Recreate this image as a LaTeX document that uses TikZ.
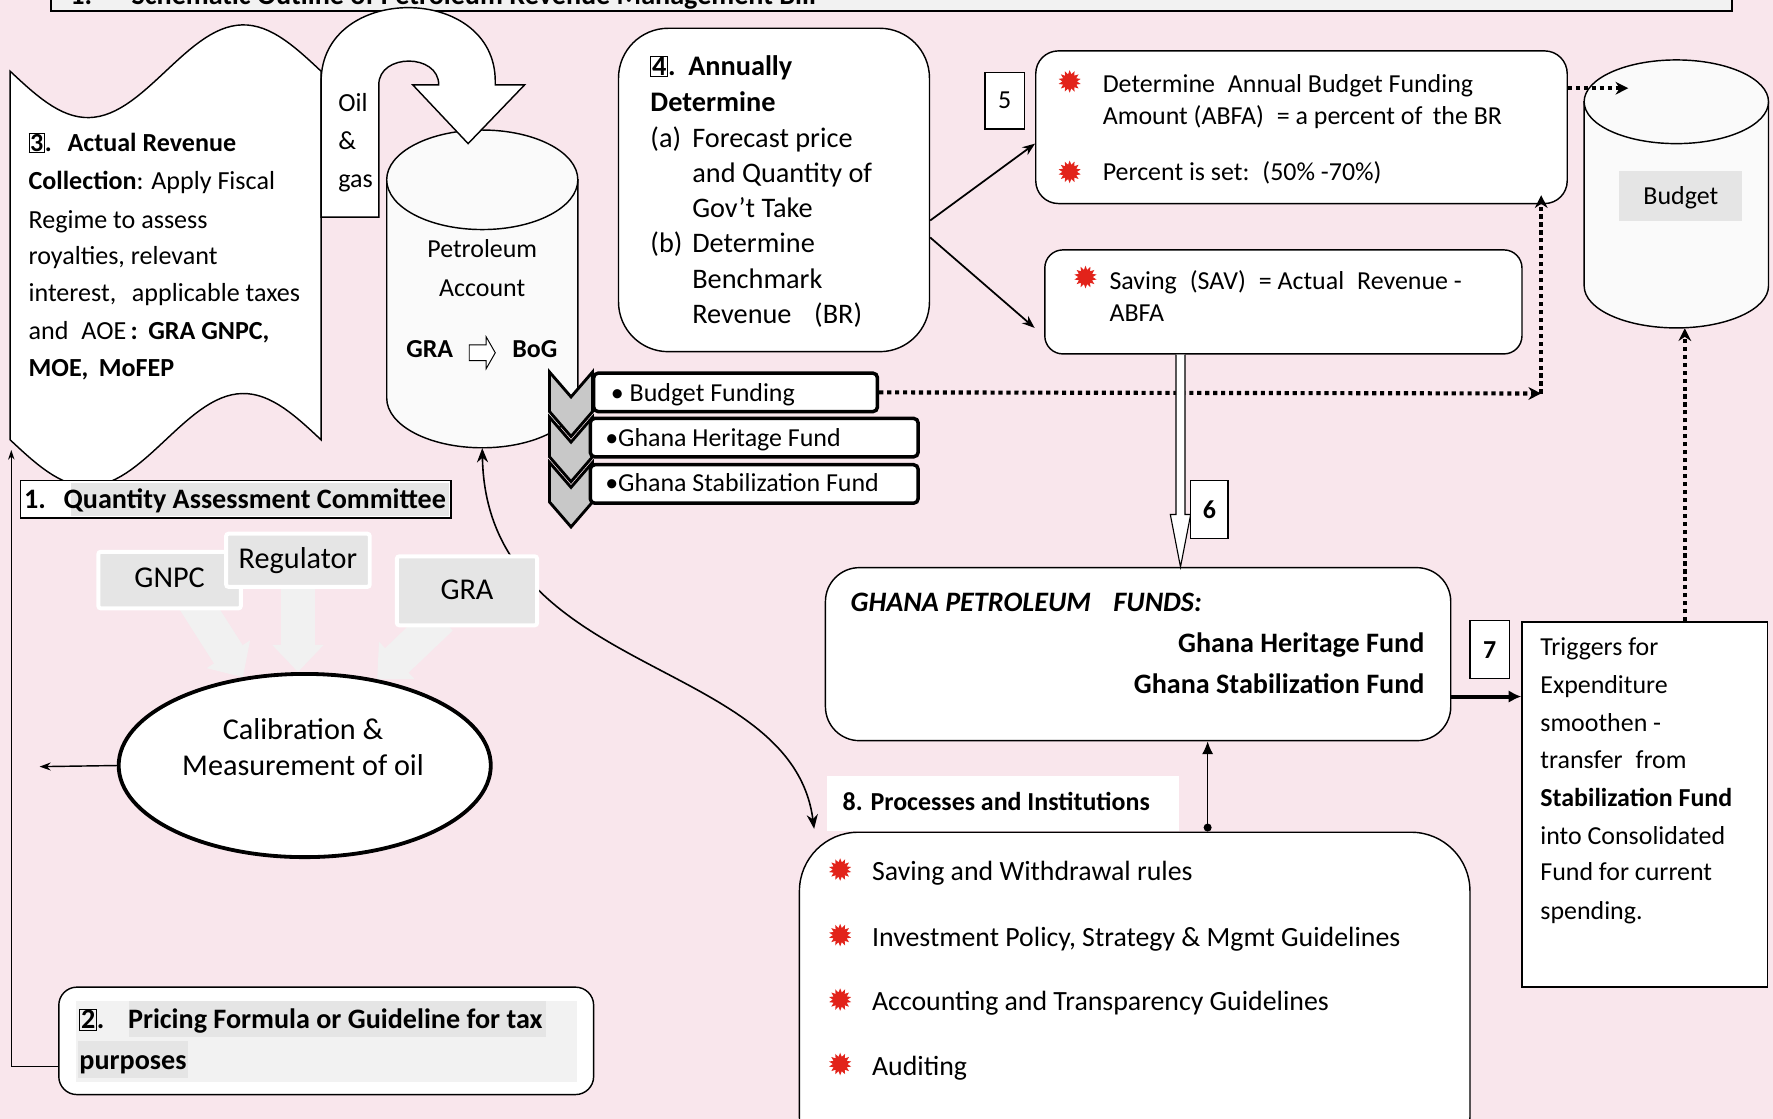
\documentclass[tikz,border=0pt]{standalone}
\usepackage{fontspec}
\setmainfont{Carlito}
\usepackage{xcolor}
\usetikzlibrary{arrows,arrows.meta,positioning,shapes.geometric,fit,calc}
\definecolor{bgpink}{HTML}{F9E6EC}
\definecolor{burstred}{HTML}{E2231A}
\newcommand\numbox[1]{{\setlength\fboxsep{0.4pt}\setlength\fboxrule{0.6pt}\fbox{#1}}}
\pgfdeclarelayer{back}
\pgfdeclarelayer{mid}
\pgfsetlayers{back,mid,main}
\tikzset{
  lbl/.style={inner sep=0pt, anchor=base west, font=\fontsize{16.3}{19}\selectfont},
  lblc/.style={lbl, anchor=base},
  lblr/.style={lbl, anchor=base east},
  midl/.style={lbl, font=\fontsize{16.4}{20}\selectfont},
  bigl/.style={lbl, font=\fontsize{17.8}{21}\selectfont},
  boldl/.style={lbl, font=\bfseries\fontsize{17.7}{21}\selectfont},
  procl/.style={lbl, font=\fontsize{17.5}{20}\selectfont},
  ovall/.style={inner sep=0pt, anchor=base, font=\fontsize{19}{22}\selectfont},
  box/.style={draw, line width=0.9pt, fill=white, inner sep=0pt},
  nbox/.style={draw, line width=0.8pt, fill=white, inner sep=0pt},
  cbox/.style={draw, line width=2.2pt, fill=white, rounded corners=0.1cm, inner sep=0pt},
  glbox/.style={draw=white, line width=2.5pt, fill=gray!20, rounded corners=1.5pt, inner sep=0pt},
  chev/.style={draw, line width=1.8pt, fill=gray!43, line join=miter},
  burst/.style={star, star points=14, star point ratio=1.55, fill=burstred, inner sep=0pt, minimum size=0.5cm},
  fatarr/.style={draw=gray!11, line width=0.75cm, -{Triangle[width=1.1cm,length=0.6cm]}},
  arr/.style={line width=1.1pt, -{Stealth[length=8pt,width=6pt]}},
  dotarr/.style={line width=2.6pt, dash pattern=on 2.6pt off 2.4pt, -{Stealth[length=8pt,width=8pt]}}
}

\begin{document}
\begin{tikzpicture}[x=0.025cm, y=-0.025cm]
\useasboundingbox (0,0) rectangle (1568,989);
\begin{pgfonlayer}{back}
\fill[bgpink] (-20,-60) rectangle (1590,1060);
\node[draw, ellipse, line width=2.4pt, fill=white, minimum width=8.225cm, minimum height=4.05cm, inner sep=0pt] (calib) at (269.5,677) {};
\end{pgfonlayer}

% heading
\node[box, fill=gray!10, line width=1.2pt, fit={(45,-40) (1532,10)}] (title) {};
\node[boldl] (titlet) at (62,4) {1.\hspace{1.4em}Schematic Outline of Petroleum Revenue Management Bill};

% 3. actual revenue
\draw[fill=white, line width=0.9pt] plot[domain=9:284, samples=60] (\x,{63+41*sin(1.30909*(\x-9))})
  -- plot[domain=284:9, samples=60] (\x,{389+41*sin(1.30909*(\x-9))}) -- cycle;
\coordinate (scrollbl) at (10,398);
\node[midl] (ar1) at (25,134) {\textbf{\numbox{3}.\hspace{0.6em}Actual Revenue}};
\node[midl] (ar2) at (25,168) {\textbf{Collection}: Apply Fiscal};
\node[midl] (ar3) at (25,202) {Regime to assess};
\node[midl] (ar4) at (25,234) {royalties, relevant};
\node[midl] (ar5) at (25,267) {interest,\hspace{0.6em}applicable taxes};
\node[midl] (ar6) at (25,300) {and\hspace{0.5em}AOE\textbf{\,:\hspace{0.4em}GRA GNPC,}};
\node[midl] (ar7) at (25,333) {\textbf{MOE,\hspace{0.4em}MoFEP}};

% petroleum account
\filldraw[fill=gray!4, line width=0.9pt] (342,159) -- (342,352) .. controls (342,376.3) and (379.8,396) .. (426.5,396)
  .. controls (473.2,396) and (511,376.3) .. (511,352) -- (511,159) -- cycle;
\filldraw[fill=gray!4, line width=0.9pt] (426.5,159) ellipse [x radius=2.1125cm, y radius=1.1cm];
\node[inner sep=0pt, fit={(342,115) (511,396)}] (petacc) {};
\node[lblc] (pet1) at (426.5,228) {Petroleum};
\node[lblc] (pet2) at (426.5,262) {Account};
\node[lblc] (gra2) at (380,316) {\textbf{GRA}};
\node[lblc] (bog) at (473,316) {\textbf{BoG}};
\draw[fill=white, line width=0.6pt] (415,305) -- (430,305) -- (430,298) -- (438,312) -- (430,326) -- (430,319) -- (415,319) -- cycle;

% oil and gas
\draw[fill=white, line width=0.9pt, line join=miter] (284,192) -- (284,72) .. controls (284,-15) and (438,-15) .. (438,72)
  -- (438,75) -- (464,75) -- (414,127) -- (365,75) -- (388,75) .. controls (388,47) and (335,47) .. (335,75) -- (335,192) -- cycle;
\node[midl] (oil1) at (299,99) {Oil};
\node[midl] (oil2) at (299,132) {\&};
\node[midl] (oil3) at (299,166) {gas};

% chevron list
\foreach \i in {0,1,2}
  \draw[chev] (486,329+40*\i) -- (505,351+40*\i) -- (524,329+40*\i) -- (524,364+40*\i) -- (505,386+40*\i) -- (486,364+40*\i) -- cycle;
\node[cbox, fit={(525,330) (776,364)}] (bf) {};
\node[cbox, fit={(522,370) (812,404)}] (ghf) {};
\node[cbox, fit={(522,411) (812,445)}] (gsf) {};
\node[lbl] (bft) at (540,355) {\textbullet\ Budget Funding};
\node[lbl] (ghft) at (535,395) {\textbullet Ghana Heritage Fund};
\node[lbl] (gsft) at (535,435) {\textbullet Ghana Stabilization Fund};

% 1. quantity assessment
\node[box, fit={(18,425) (399,458)}] (qac) {};
\fill[gray!20] (63,427) rectangle (397,456);
\node[boldl] (qac1) at (21,450) {1.};
\node[boldl] (qac2) at (56,450) {Quantity Assessment Committee};

\node[glbox, fit={(87,488) (213,538)}] (gnpc) {};
\node[ovall] (gnpct) at (150,520) {GNPC};
\node[glbox, fit={(200,472) (327,519)}] (reg) {};
\node[ovall] (regt) at (263.5,503) {Regulator};
\node[glbox, fit={(351,492) (475,553)}] (gra) {};
\node[ovall] (grat) at (413,530) {GRA};
\begin{pgfonlayer}{mid}
\draw[fatarr] ($(gnpc.south)+(22,-8)$) -- (calib.125);
\draw[fatarr] ($(reg.south)+(0,-8)$) -- (reg.south |- calib.north);
\draw[fatarr] ($(gra.south)+(-23,-8)$) -- (calib.50);
\coordinate (procin) at (720,733);
\draw[line width=1pt, {Stealth[length=9pt,width=7pt]}-{Stealth[length=9pt,width=7pt]}] (petacc.south) .. controls (430,600) and (700,580) .. (procin);
\end{pgfonlayer}

\node[ovall] (calt1) at (268,654) {Calibration \&};
\node[ovall] (calt2) at (268,686) {Measurement of oil};
\coordinate (calout) at (35,678);
\draw[line width=0.9pt, -{Stealth[length=7pt,width=5pt]}] (calib.west) -- (calout);

% 2. pricing
\node[box, rounded corners=0.4cm, fit={(52,873) (525,968)}] (price) {};
\fill[gray!10] (67,885) rectangle (510,957);
\fill[gray!20] (114,885) rectangle (483,917);
\fill[gray!20] (69,921) rectangle (166,953);
\node[boldl] (pr1) at (70,910) {\numbox{2}.};
\node[boldl] (pr2) at (113,910) {Pricing Formula or Guideline for tax};
\node[boldl] (pr3) at (70,946) {purposes};
\draw[line width=0.9pt, -{Stealth[length=6pt,width=4pt]}] (price.west |- 0,943) -- (10,943) -- (scrollbl);

% 4. annually determine
\node[box, rounded corners=1.1cm, fit={(547,25) (822,311)}] (box4) {};
\node[bigl] (b4a) at (575,67) {\textbf{\numbox{4}.\hspace{0.45em}Annually}};
\node[bigl] (b4b) at (575,99) {\textbf{Determine}};
\node[bigl] (b4c) at (575,130) {(a)};
\node[bigl] (b4d) at (612,130) {Forecast price};
\node[bigl] (b4e) at (612,161) {and Quantity of};
\node[bigl] (b4f) at (612,192) {Gov’t Take};
\node[bigl] (b4g) at (575,223) {(b)};
\node[bigl] (b4h) at (612,223) {Determine};
\node[bigl] (b4i) at (612,255) {Benchmark};
\node[bigl] (b4j) at (612,286) {Revenue\hspace{0.8em}(BR)};

% 5. budget funding and saving
\node[nbox, fit={(871,64) (906,114)}] (n5) {};
\node[lbl, anchor=center] (n5t) at (n5) {5};
\node[box, rounded corners=0.5cm, fit={(916,45) (1386,180)}] (abfa) {};
\node[box, rounded corners=0.4cm, fit={(924,221) (1346,313)}] (sav) {};
\coordinate (savin) at (915,290);
\draw[arr] (box4.east |- 0,195) -- (abfa.west |- 0,127);
\draw[arr] (box4.east |- 0,210) -- (savin);
\node[burst] (st1) at (946,72) {};
\node[lbl] (ab1) at (975,82) {Determine\hspace{0.5em}Annual Budget Funding};
\node[lbl] (ab2) at (975,110) {Amount (ABFA)\hspace{0.5em}= a percent of\hspace{0.4em}the BR};
\node[burst] (st2) at (946,152) {};
\node[lbl] (ab3) at (975,160) {Percent is set:\hspace{0.5em}(50\% -70\%)};
\node[burst] (st3) at (960,245) {};
\node[lbl] (sv1) at (981,256) {Saving\hspace{0.5em}(SAV)\hspace{0.5em}= Actual\hspace{0.5em}Revenue -};
\node[lbl] (sv2) at (981,284) {ABFA};

% budget
\filldraw[fill=gray!4, line width=0.9pt] (1401,90) -- (1401,253) .. controls (1401,273.4) and (1437.5,290) .. (1482.5,290)
  .. controls (1527.5,290) and (1564,273.4) .. (1564,253) -- (1564,90) -- cycle;
\filldraw[fill=gray!4, line width=0.9pt] (1482.5,90) ellipse [x radius=2.0375cm, y radius=0.925cm];
\node[inner sep=0pt, fit={(1401,53) (1564,290)}] (budget) {};
\node[fill=gray!20, inner sep=0pt, fit={(1432,151) (1541,195)}] (budlbl) {};
\node[lblc] (budt) at (1486.5,181) {Budget};
\coordinate (budin) at (1440,78);
\draw[dotarr] (abfa.east |- budin) -- (budin);
\coordinate (bfcorner) at (1363,348);
\draw[dotarr] (bf.east) -- (bfcorner);
\draw[dotarr] (bfcorner) -- ($(abfa.south -| bfcorner)+(0,-8)$);

% 6. petroleum funds
\node[box, rounded corners=0.75cm, fit={(730,502) (1283,655)}] (gpf) {};
\draw[fill=white, line width=0.7pt] (sav.south -| 1040,0) -- (1040,455) -- (1035,455) -- (gpf.north -| 1044,0) -- (1053,455) -- (1048,455) -- (sav.south -| 1048,0);
\node[nbox, fit={(1053,425) (1086,476)}] (n6) {};
\node[lbl, anchor=center] (n6t) at (n6) {\textbf{6}};
\node[lbl, font=\bfseries\itshape\fontsize{17.7}{21}\selectfont] (gpf1) at (752,541) {GHANA PETROLEUM\hspace{0.8em}FUNDS:};
\node[boldl, anchor=base east] (gpf2) at (1260,577) {Ghana Heritage Fund};
\node[boldl, anchor=base east] (gpf3) at (1260,613) {Ghana Stabilization Fund};

% 7. triggers
\node[box, fit={(1346,550) (1563,873)}] (trig) {};
\node[nbox, fit={(1300,549) (1335,600)}] (n7) {};
\node[lbl, anchor=center] (n7t) at (n7) {\textbf{7}};
\draw[line width=2.5pt, -{Latex[length=8pt,width=8pt]}] (gpf.east |- 0,616) -- (trig.west |- 0,616);
\foreach \yy/\words [count=\k] in {580/{Triggers for}, 613/{Expenditure}, 647/{smoothen -}, 680/{transfer\hspace{0.5em}from},
  713/{\textbf{Stabilization Fund}}, 747/{into Consolidated}, 779/{Fund for current}, 813/{spending.}}
  \node[lbl] (trt\k) at (1362,\yy) {\words};
\draw[dotarr] (trig.north -| 1490,0) -- (budget.south -| 1490,0);

% 8. processes
\node[fill=white, inner sep=0pt, fit={(731,686) (1043,735)}] (plbl) {};
\node[lbl, font=\bfseries\fontsize{16.3}{19}\selectfont] (plblt) at (745,717) {8. Processes and Institutions};
\node[box, rounded corners=1.3cm, fit={(707,736) (1300,1040)}] (proc) {};
\foreach \yy/\words [count=\k] in {779/{Saving and Withdrawal rules}, 837/{Investment Policy, Strategy \& Mgmt Guidelines},
  894/{Accounting and Transparency Guidelines}, 951/{Auditing}} {
  \node[burst] (pst\k) at (743,\yy-10) {};
  \node[procl] (pit\k) at (771,\yy) {\words};
}
\draw[line width=0.9pt, {Circle[length=5pt]}-{Latex[length=8pt,width=7pt]}] (proc.north -| 1068,0) -- (gpf.south -| 1068,0);
\end{tikzpicture}
\end{document}
